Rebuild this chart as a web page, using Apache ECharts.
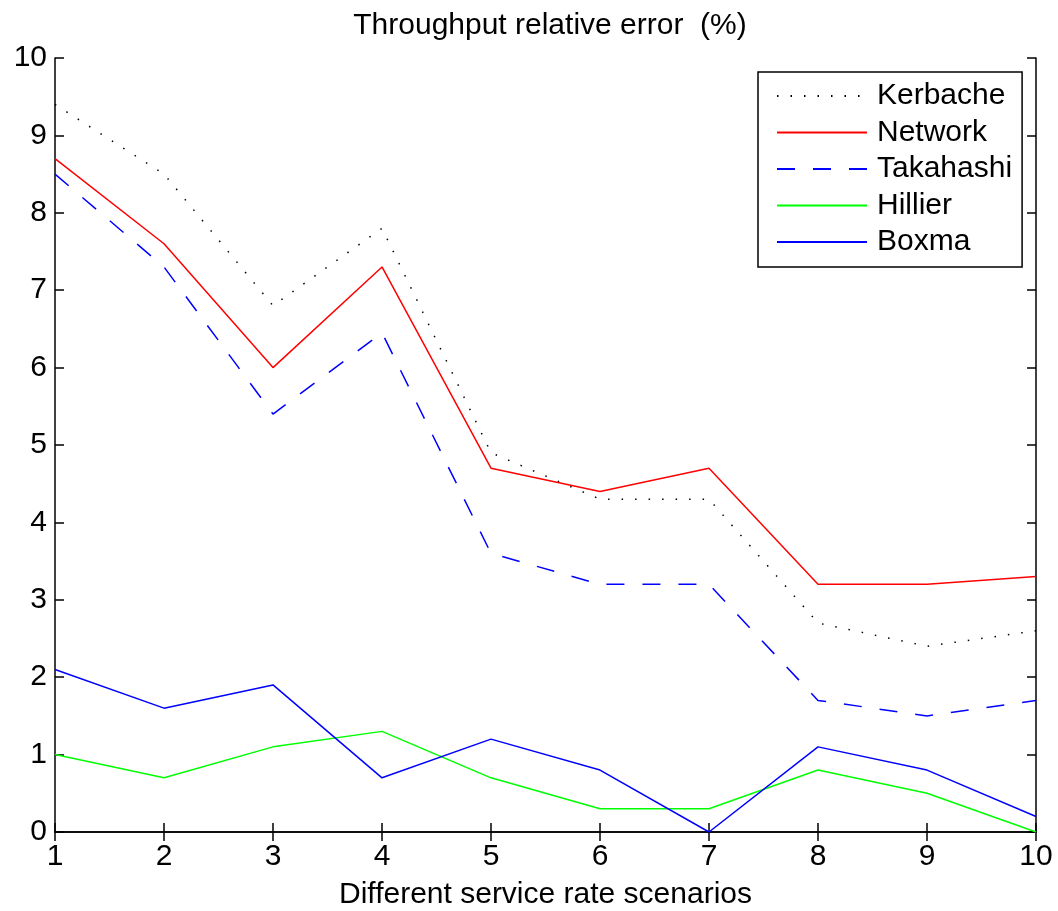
<!DOCTYPE html>
<html>
<head>
<meta charset="utf-8">
<script src="https://cdn.jsdelivr.net/npm/echarts@6/dist/echarts.min.js"></script>
<style>
  html, body { margin: 0; padding: 0; background: #fff; }
  #chart { width: 1058px; height: 911px; }
</style>
</head>
<body>
<div id="chart"></div>
<script>
// scenarios 1..10
const scenarios = [1, 2, 3, 4, 5, 6, 7, 8, 9, 10];

// relative error (%) per method
const kerbache  = [9.4, 8.5, 6.8, 7.8, 4.9, 4.3, 4.3, 2.7, 2.4, 2.6];
const network   = [8.7, 7.6, 6.0, 7.3, 4.7, 4.4, 4.7, 3.2, 3.2, 3.3];
const takahashi = [8.5, 7.3, 5.4, 6.45, 3.6, 3.2, 3.2, 1.7, 1.5, 1.7];
const hillier   = [1.0, 0.7, 1.1, 1.3, 0.7, 0.3, 0.3, 0.8, 0.5, 0.0];
const boxma     = [2.1, 1.6, 1.9, 0.7, 1.2, 0.8, 0.0, 1.1, 0.8, 0.2];

const font = 'Liberation Sans, Arial, Helvetica, sans-serif';
const fs = 30;

function pairs(vals) {
    return scenarios.map((s, i) => [s, vals[i]]);
}

function makeLine(name, vals, color, type) {
    return {
        name: name,
        type: 'line',
        data: pairs(vals),
        symbol: 'none',
        animation: false,
        lineStyle: { color: color, width: 1.5, type: type },
        itemStyle: { color: color }
    };
}

const chart = echarts.init(document.getElementById('chart'));

// mirrored axes (top/right) just for the inner tick marks
const axisCommon = {
    axisLine: { show: true, lineStyle: { color: '#000', width: 1.5 } },
    axisTick: { show: true, inside: true, length: 9, lineStyle: { color: '#000', width: 1.5 } },
    splitLine: { show: false }
};

const option = {
    backgroundColor: '#fff',
    title: {
        text: 'Throughput relative error  (%)',
        left: 545,
        textAlign: 'center',
        top: 6,
        textStyle: { fontFamily: font, fontSize: fs, fontWeight: 'normal', color: '#000' }
    },
    legend: {
        orient: 'vertical',
        left: 758,
        top: 72,
        padding: [9, 10, 10, 18],
        itemWidth: 90,
        itemHeight: 20,
        itemGap: 6.5,
        borderColor: '#000',
        borderWidth: 1.5,
        backgroundColor: '#fff',
        itemStyle: { opacity: 0 },
        textStyle: { fontFamily: font, fontSize: fs, lineHeight: 30, color: '#000', padding: [0, 0, 0, 5] },
        data: ['Kerbache', 'Network', 'Takahashi', 'Hillier', 'Boxma']
    },
    grid: { left: 55, right: 22, top: 58, bottom: 79, outerBoundsMode: 'none', containLabel: false },
    xAxis: [
        Object.assign({
            type: 'value', min: 1, max: 10, interval: 1,
            name: 'Different service rate scenarios',
            nameLocation: 'middle',
            nameGap: 48,
            nameTextStyle: { fontFamily: font, fontSize: fs, color: '#000' },
            axisLabel: { fontFamily: font, fontSize: fs, color: '#000', margin: 10 }
        }, axisCommon),
        Object.assign({
            type: 'value', min: 1, max: 10, interval: 1, position: 'top',
            axisLabel: { show: false }
        }, axisCommon)
    ],
    yAxis: [
        Object.assign({
            type: 'value', min: 0, max: 10, interval: 1,
            axisLabel: { fontFamily: font, fontSize: fs, color: '#000', margin: 8 }
        }, axisCommon),
        Object.assign({
            type: 'value', min: 0, max: 10, interval: 1, position: 'right',
            axisLabel: { show: false }
        }, axisCommon)
    ],
    series: [
        makeLine('Kerbache', kerbache, '#000000', [1.5, 12]),
        makeLine('Network', network, '#ff0000', 'solid'),
        makeLine('Takahashi', takahashi, '#0000ff', [18, 18]),
        makeLine('Hillier', hillier, '#00ff00', 'solid'),
        makeLine('Boxma', boxma, '#0000ff', 'solid')
    ]
};

chart.setOption(option);
</script>
</body>
</html>
